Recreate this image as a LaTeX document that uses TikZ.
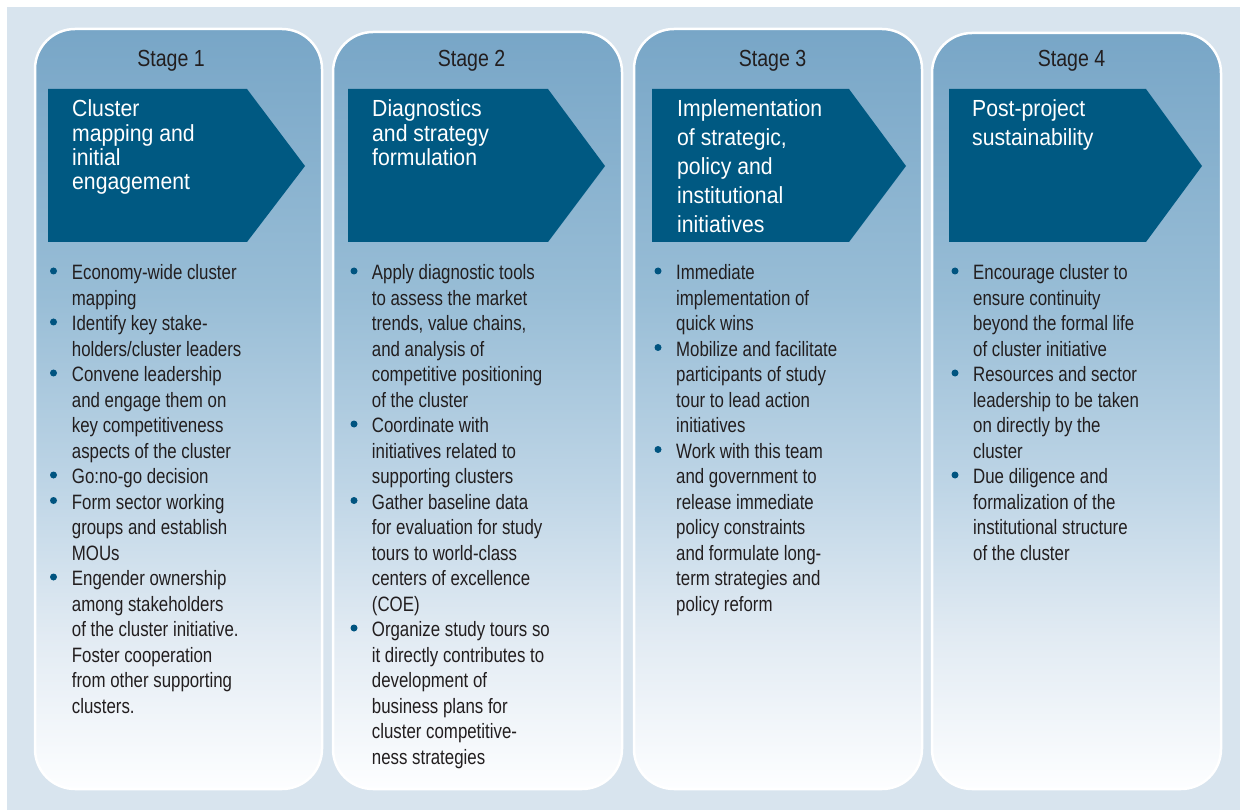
\documentclass[tikz,border=0pt]{standalone}
\usepackage{fontspec}
\setmainfont{Liberation Sans}
\newfontfamily\bodyf[FakeStretch=0.81]{Liberation Sans}
\newfontfamily\headf[FakeStretch=0.84]{Liberation Sans}
\newfontfamily\chevf[FakeStretch=0.91]{Liberation Sans}
\definecolor{bgblue}{RGB}{216,228,238}
\definecolor{chevblue}{RGB}{0,89,130}
\definecolor{dotblue}{RGB}{0,84,128}
\definecolor{textdark}{RGB}{34,30,31}
\definecolor{pA}{RGB}{253,254,255}
\definecolor{pB}{RGB}{226,235,243}
\definecolor{pC}{RGB}{190,213,230}
\definecolor{pD}{RGB}{152,189,214}
\definecolor{pE}{RGB}{120,166,199}
\pgfdeclareverticalshading{panelshade}{100bp}{color(0bp)=(pA); color(25bp)=(pA); color(35bp)=(pB); color(45bp)=(pC); color(57.5bp)=(pD); color(75bp)=(pE); color(100bp)=(pE)}
\newcommand{\lineblock}[1]{\begin{tabular}[t]{@{}l@{}}#1\end{tabular}}
\tikzset{
  panel/.style={shading=panelshade, draw=white, line width=2.5pt, rounded corners=40pt},
  chevron/.style={fill=chevblue},
  stagelabel/.style={anchor=base, inner sep=0, text=textdark, font={\headf\fontsize{23.3}{28}\selectfont}},
  chevtext/.style={anchor=base west, inner sep=0, text=white, font={\chevf\fontsize{23.3}{#1}\selectfont}},
  bodytext/.style={anchor=base west, inner sep=0, text=textdark, font={\bodyf\fontsize{20.8}{25.5}\selectfont}},
  bdot/.style={fill=dotblue}
}
\begin{document}
\begin{tikzpicture}[x=1pt,y=-1pt]
\useasboundingbox[fill=white] (0,0) rectangle (1240,810);
\fill[bgblue] (7,7) rectangle (1240,810);
% panels
\shadedraw[panel] (35,29) rectangle (322,789);
\shadedraw[panel] (333,32) rectangle (622,789);
\shadedraw[panel] (634,29) rectangle (922,789);
\shadedraw[panel] (932,33) rectangle (1221,789);
% stage labels
\node[stagelabel] (s1) at (171,67) {Stage 1};
\node[stagelabel] (s2) at (471.5,67) {Stage 2};
\node[stagelabel] (s3) at (772.5,67) {Stage 3};
\node[stagelabel] (s4) at (1071.5,67) {Stage 4};
% chevrons
\fill[chevron] (48,89) -- (247,89) -- (305,166) -- (247,242) -- (48,242) -- cycle;
\fill[chevron] (348,89) -- (548,89) -- (605,166) -- (548,242) -- (348,242) -- cycle;
\fill[chevron] (652,89) -- (849,89) -- (906,166) -- (849,242) -- (652,242) -- cycle;
\fill[chevron] (949,89) -- (1146,89) -- (1202,166) -- (1146,242) -- (949,242) -- cycle;
\node[chevtext=24] (c1) at (72,117) {\lineblock{Cluster\\mapping and\\initial\\engagement}};
\node[chevtext=24] (c2) at (372,117) {\lineblock{Diagnostics\\and strategy\\formulation}};
\node[chevtext=29] (c3) at (677,117) {\lineblock{Implementation\\of strategic,\\policy and\\institutional\\initiatives}};
\node[chevtext=29] (c4) at (972,117) {\lineblock{Post-project\\sustainability}};
% body text
\node[bodytext] (b1) at (71.7,280) {\lineblock{Economy-wide cluster\\mapping\\Identify key stake-\\holders/cluster leaders\\Convene leadership\\and engage them on\\key competitiveness\\aspects of the cluster\\Go:no-go decision\\Form sector working\\groups and establish\\MOUs\\Engender ownership\\among stakeholders\\of the cluster initiative.\\Foster cooperation\\from other supporting\\clusters.}};
\node[bodytext] (b2) at (371.7,280) {\lineblock{Apply diagnostic tools\\to assess the market\\trends, value chains,\\and analysis of\\competitive positioning\\of the cluster\\Coordinate with\\initiatives related to\\supporting clusters\\Gather baseline data\\for evaluation for study\\tours to world-class\\centers of excellence\\(COE)\\Organize study tours so\\it directly contributes to\\development of\\business plans for\\cluster competitive-\\ness strategies}};
\node[bodytext] (b3) at (676,280) {\lineblock{Immediate\\implementation of\\quick wins\\Mobilize and facilitate\\participants of study\\tour to lead action\\initiatives\\Work with this team\\and government to\\release immediate\\policy constraints\\and formulate long-\\term strategies and\\policy reform}};
\node[bodytext] (b4) at (973,280) {\lineblock{Encourage cluster to\\ensure continuity\\beyond the formal life\\of cluster initiative\\Resources and sector\\leadership to be taken\\on directly by the\\cluster\\Due diligence and\\formalization of the\\institutional structure\\of the cluster}};
% bullets
\foreach \k in {0,2,4,8,9,12} \fill[bdot] (53.5,{271+25.5*\k}) circle (3.5);
\foreach \k in {0,6,9,14} \fill[bdot] (354,{271+25.5*\k}) circle (3.5);
\foreach \k in {0,3,7} \fill[bdot] (658,{271+25.5*\k}) circle (3.5);
\foreach \k in {0,4,8} \fill[bdot] (955,{271+25.5*\k}) circle (3.5);
\end{tikzpicture}
\end{document}
